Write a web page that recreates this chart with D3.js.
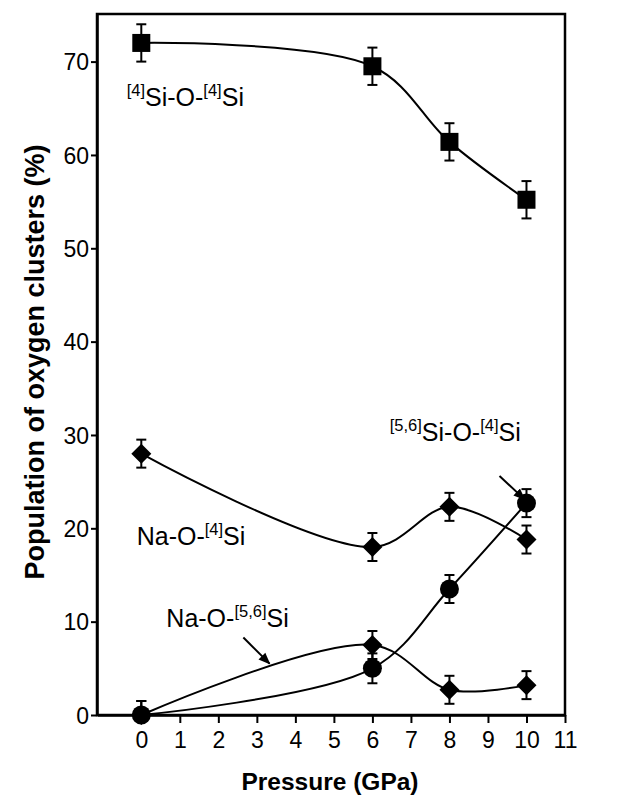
<!DOCTYPE html>
<html><head><meta charset="utf-8">
<script src="https://cdn.jsdelivr.net/npm/d3@7"></script>
<style>
html,body{margin:0;padding:0;background:#fff;}
text{font-family:"Liberation Sans", Arial, sans-serif;fill:#000;}
</style></head>
<body>
<svg id="c" width="619" height="802"></svg>
<script>
const pressure = [0, 6, 8, 10];
const si4Si4 = [72.0, 69.5, 61.4, 55.2];
const si4Si4Err = [2.0, 2.0, 2.0, 2.0];
const naSi4 = [28.0, 18.0, 22.3, 18.8];
const naSi4Err = [1.5, 1.5, 1.5, 1.5];
const si56Si4 = [0.0, 5.0, 13.5, 22.7];
const si56Si4Err = [1.5, 1.6, 1.5, 1.5];
const naSi56 = [0.0, 7.5, 2.7, 3.2];
const naSi56Err = [1.5, 1.5, 1.5, 1.5];
const xTicks = [0,1,2,3,4,5,6,7,8,9,10,11];
const yTicks = [0,10,20,30,40,50,60,70];

const svg = d3.select("#c");
const x = d3.scaleLinear().domain([-1.15, 11]).range([97, 565]);
const y = d3.scaleLinear().domain([0, 75.1]).range([715, 14]);

// frame
svg.append("rect").attr("x", 97).attr("y", 14).attr("width", 565-97).attr("height", 715-14)
  .attr("fill","none").attr("stroke","#000").attr("stroke-width",2.5);

const xAxis = svg.append("g").attr("transform","translate(0,715)")
  .call(d3.axisBottom(x).tickValues(xTicks).tickSize(8).tickSizeOuter(0).tickPadding(9));
const yAxis = svg.append("g").attr("transform","translate(97,0)")
  .call(d3.axisLeft(y).tickValues(yTicks).tickSize(6).tickSizeOuter(0).tickPadding(2));
[xAxis,yAxis].forEach(a=>{
  a.select(".domain").attr("stroke-width",2.5);
  a.selectAll(".tick line").attr("stroke-width",2);
  a.selectAll(".tick text").attr("font-size",23).attr("font-family","Liberation Sans, Arial, sans-serif");
});
yAxis.selectAll(".tick text").attr("dy","0.36em");

svg.append("text").attr("x",330).attr("y",790).attr("text-anchor","middle")
  .attr("font-size",24.5).attr("font-weight","bold").text("Pressure (GPa)");
svg.append("text").attr("transform","translate(44,362) rotate(-90)").attr("text-anchor","middle")
  .attr("font-size",27).attr("font-weight","bold").text("Population of oxygen clusters (%)");

const line = d3.line().x(d=>x(d[0])).y(d=>y(d[1])).curve(d3.curveCatmullRom.alpha(0.5));
function series(vals, errs, shape){
  const pts = pressure.map((p,i)=>[p, vals[i], errs[i]]);
  svg.append("path").datum(pts).attr("d", line).attr("fill","none").attr("stroke","#000").attr("stroke-width",2);
  const g = svg.append("g");
  pts.forEach(d=>{
    const cx = x(d[0]), cy = y(d[1]);
    const t = y(d[1]+d[2]), b = y(Math.max(d[1]-d[2], 0));
    g.append("line").attr("x1",cx).attr("x2",cx).attr("y1",t).attr("y2",b).attr("stroke","#000").attr("stroke-width",2);
    g.append("line").attr("x1",cx-5).attr("x2",cx+5).attr("y1",t).attr("y2",t).attr("stroke","#000").attr("stroke-width",2);
    if (d[1]-d[2] > 0) g.append("line").attr("x1",cx-5).attr("x2",cx+5).attr("y1",b).attr("y2",b).attr("stroke","#000").attr("stroke-width",2);
    if (shape==="square") g.append("rect").attr("x",cx-9).attr("y",cy-9).attr("width",18).attr("height",18).attr("fill","#000");
    else if (shape==="circle") g.append("circle").attr("cx",cx).attr("cy",cy).attr("r",9.5).attr("fill","#000");
    else g.append("path").attr("d",`M${cx},${cy-10}L${cx+10},${cy}L${cx},${cy+10}L${cx-10},${cy}Z`).attr("fill","#000");
  });
}
series(si4Si4, si4Si4Err, "square");
series(naSi4, naSi4Err, "diamond");
series(naSi56, naSi56Err, "diamond");
series(si56Si4, si56Si4Err, "circle");

// labels
function label(px, py, parts){
  const t = svg.append("text").attr("x", x(px)).attr("y", y(py)).attr("font-size",25);
  parts.forEach(p=>{
    if (p[1]) t.append("tspan").attr("font-size",16.5).attr("dy",-10).text(p[0]);
    else t.append("tspan").attr("font-size",25).attr("dy",p[2]||0).text(p[0]);
  });
}
label(-0.38, 65.2, [["[4]",1],["Si-O-",0,10],["[4]",1],["Si",0,10]]);
label(-0.12, 18.2, [["Na-O-",0],["[4]",1],["Si",0,10]]);
label(6.45, 29.4, [["[5,6]",1],["Si-O-",0,10],["[4]",1],["Si",0,10]]);
label(0.65, 9.4, [["Na-O-",0],["[5,6]",1],["Si",0,10]]);

// arrows
const defs = svg.append("defs");
defs.append("marker").attr("id","ah").attr("viewBox","0 0 10 10").attr("refX",9).attr("refY",5)
  .attr("markerWidth",6).attr("markerHeight",6).attr("orient","auto").attr("markerUnits","strokeWidth")
  .append("path").attr("d","M0,1L10,5L0,9Z").attr("fill","#000");
const arrows = [[2.65, 8.3, 3.33, 5.5],[9.3, 25.6, 9.95, 23.1]];
arrows.forEach(a=>{
  svg.append("line").attr("x1",x(a[0])).attr("y1",y(a[1])).attr("x2",x(a[2])).attr("y2",y(a[3]))
    .attr("stroke","#000").attr("stroke-width",2).attr("marker-end","url(#ah)");
});
</script>
</body></html>
